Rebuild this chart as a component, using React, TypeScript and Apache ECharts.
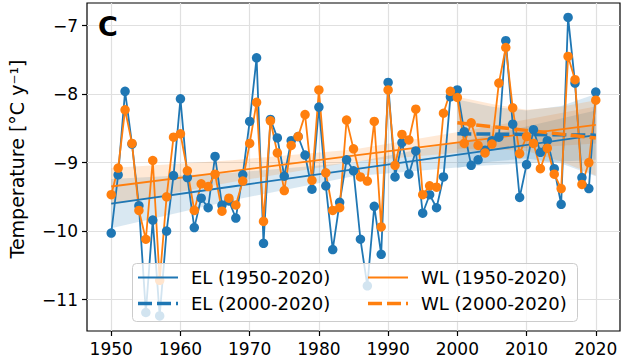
import React, { useEffect, useRef } from 'react';
import * as echarts from 'echarts';

const YEARS = Array.from({ length: 71 }, (_, i) => 1950 + i);

const EL_VALUES = [
  -10.03, -9.18, -7.96, -8.73, -9.63, -11.19, -9.84, -11.24, -10.0, -9.19,
  -8.07, -9.22, -9.95, -9.52, -9.66, -8.91, -9.62, -9.56, -9.81, -9.18,
  -8.4, -7.47, -10.18, -8.37, -8.64, -9.2, -8.68, -8.62, -8.89, -9.39,
  -8.19, -9.34, -10.27, -9.58, -8.96, -9.12, -10.12, -10.8, -9.64, -10.34,
  -7.83, -9.21, -8.71, -9.17, -8.83, -9.74, -9.47, -9.66, -9.21, -8.04,
  -7.94, -8.55, -9.04, -8.96, -8.82, -8.68, -8.63, -7.22, -8.44, -9.51,
  -9.03, -8.52, -8.85, -8.68, -9.09, -9.61, -6.88, -7.84, -9.22, -9.38,
  -7.97,
];

const WL_VALUES = [
  -9.47, -9.08, -8.23, -8.72, -9.7, -10.12, -8.97, -10.72, -9.5, -8.63,
  -8.58, -9.12, -9.7, -9.31, -9.35, -9.17, -9.71, -9.52, -9.62, -9.27,
  -8.72, -8.12, -9.86, -8.39, -8.86, -9.41, -8.75, -8.62, -8.3, -9.26,
  -7.94, -9.15, -9.7, -9.66, -8.38, -8.8, -9.21, -9.27, -8.4, -9.94,
  -7.94, -9.04, -8.59, -8.67, -8.22, -9.47, -9.34, -9.36, -8.28, -7.96,
  -8.05, -8.72, -8.42, -8.75, -8.86, -8.73, -7.84, -7.32, -8.2, -8.87,
  -8.62, -8.72, -9.09, -8.79, -9.17, -9.38, -7.45, -7.79, -9.32, -9.0,
  -8.09,
];

// Trend 1950-2020 with confidence band
const FULL_YEARS = [1950, 1967.5, 1985, 2002.5, 2020];
const EL_FULL_TREND = [-9.6, -9.35, -9.1, -8.85, -8.6];
const EL_FULL_LOW = [-9.96, -9.55, -9.2, -9.05, -8.96];
const EL_FULL_HIGH = [-9.24, -9.15, -9.0, -8.65, -8.24];
const WL_FULL_TREND = [-9.35, -9.125, -8.9, -8.675, -8.45];
const WL_FULL_LOW = [-9.62, -9.285, -8.99, -8.835, -8.72];
const WL_FULL_HIGH = [-9.08, -8.965, -8.81, -8.515, -8.18];

// Trend 2000-2020 with confidence band
const RECENT_YEARS = [2000, 2005, 2010, 2015, 2020];
const EL_RECENT_TREND = [-8.58, -8.585, -8.59, -8.595, -8.6];
const EL_RECENT_LOW = [-9.08, -8.985, -8.94, -9.015, -9.2];
const EL_RECENT_HIGH = [-8.08, -8.185, -8.24, -8.175, -8.0];
const WL_RECENT_TREND = [-8.42, -8.475, -8.53, -8.585, -8.64];
const WL_RECENT_LOW = [-8.8, -8.805, -8.83, -8.985, -9.19];
const WL_RECENT_HIGH = [-8.04, -8.145, -8.23, -8.185, -8.09];

const X_TICKS = [1950, 1960, 1970, 1980, 1990, 2000, 2010, 2020];
const Y_TICKS = [-11, -10, -9, -8, -7];
const LEGEND_LABELS = ['EL (1950-2020)', 'EL (2000-2020)', 'WL (1950-2020)', 'WL (2000-2020)'];

const BLUE = '#1f77b4';
const ORANGE = '#ff7f0e';
const FONT = 'DejaVu Sans';

function pairs(xs: number[], ys: number[]) {
  return xs.map((x, i) => [x, ys[i]]);
}

function band(id: string, xs: number[], low: number[], high: number[], color: string) {
  return {
    type: 'custom',
    name: id,
    silent: true,
    data: xs.map((x, i) => [x, low[i], high[i]]),
    encode: { x: 0, y: [1, 2] },
    renderItem: (params: any, api: any) => {
      if (params.dataIndex !== 0) return null;
      const top = xs.map((x, i) => api.coord([x, high[i]]));
      const bottom = xs.map((x, i) => api.coord([x, low[i]])).reverse();
      return {
        type: 'polygon',
        shape: { points: top.concat(bottom) },
        style: { fill: color, opacity: 0.17 },
      };
    },
  };
}

export default function App() {
  const ref = useRef<HTMLDivElement>(null);
  useEffect(() => {
    document.body.style.margin = '0';
    const chart = echarts.init(ref.current!, null, { renderer: 'svg' });
    const tickFont = { fontSize: 17, fontFamily: FONT, color: '#000' };
    const legendText = (x: number, y: number, text: string) => ({
      type: 'text',
      z: 101,
      x,
      y,
      style: { text, fontSize: 18, fontFamily: FONT, fill: '#000', verticalAlign: 'middle' },
    });
    chart.setOption({
      animation: false,
      title: {
        text: 'C',
        left: 98,
        top: 13,
        padding: 0,
        textStyle: { fontSize: 27, fontWeight: 'bold', fontFamily: FONT, color: '#000' },
      },
      grid: {
        left: 87,
        top: 3,
        right: 4,
        bottom: 32,
        show: true,
        borderColor: '#000',
        borderWidth: 1.2,
        backgroundColor: 'transparent',
        containLabel: false,
        outerBoundsMode: 'none',
      },
      xAxis: {
        type: 'value',
        min: 1946.5,
        max: 2023.5,
        axisLine: { show: false },
        axisTick: { show: true, length: 5, lineStyle: { color: '#000', width: 1.2 }, customValues: X_TICKS },
        axisLabel: { ...tickFont, margin: 9, customValues: X_TICKS, formatter: (v: number) => String(v) },
        splitLine: { show: true, lineStyle: { color: '#e0e0e0', width: 1.2 } },
      },
      yAxis: {
        type: 'value',
        min: -11.46,
        max: -6.67,
        name: 'Temperature [°C y⁻¹]',
        nameLocation: 'middle',
        nameRotate: 90,
        nameGap: 61,
        nameTextStyle: { fontSize: 19, fontFamily: FONT, color: '#000', padding: [0, 0, 0, 16] },
        axisLine: { show: false },
        axisTick: { show: true, length: 5, lineStyle: { color: '#000', width: 1.2 }, customValues: Y_TICKS },
        axisLabel: {
          ...tickFont,
          margin: 9,
          customValues: Y_TICKS,
          formatter: (v: number) => String(v).replace('-', '−'),
        },
        splitLine: { show: true, lineStyle: { color: '#e0e0e0', width: 1.2 } },
      },
      series: [
        band('elFull', FULL_YEARS, EL_FULL_LOW, EL_FULL_HIGH, BLUE),
        band('wlFull', FULL_YEARS, WL_FULL_LOW, WL_FULL_HIGH, ORANGE),
        band('elRecent', RECENT_YEARS, EL_RECENT_LOW, EL_RECENT_HIGH, BLUE),
        band('wlRecent', RECENT_YEARS, WL_RECENT_LOW, WL_RECENT_HIGH, ORANGE),
        {
          type: 'line',
          name: 'EL',
          data: pairs(YEARS, EL_VALUES),
          symbol: 'circle',
          symbolSize: 9.5,
          showAllSymbol: true,
          itemStyle: { color: BLUE, borderWidth: 0 },
          lineStyle: { color: BLUE, width: 1.8 },
        },
        {
          type: 'line',
          name: 'WL',
          data: pairs(YEARS, WL_VALUES),
          symbol: 'circle',
          symbolSize: 9.5,
          showAllSymbol: true,
          itemStyle: { color: ORANGE, borderWidth: 0 },
          lineStyle: { color: ORANGE, width: 1.8 },
        },
        {
          type: 'line',
          name: LEGEND_LABELS[0],
          data: pairs(FULL_YEARS, EL_FULL_TREND),
          symbol: 'none',
          lineStyle: { color: BLUE, width: 1.8 },
        },
        {
          type: 'line',
          name: LEGEND_LABELS[2],
          data: pairs(FULL_YEARS, WL_FULL_TREND),
          symbol: 'none',
          lineStyle: { color: ORANGE, width: 1.8 },
        },
        {
          type: 'line',
          name: LEGEND_LABELS[1],
          data: pairs(RECENT_YEARS, EL_RECENT_TREND),
          symbol: 'none',
          lineStyle: { color: BLUE, width: 3.5, type: [14, 5] },
        },
        {
          type: 'line',
          name: LEGEND_LABELS[3],
          data: pairs(RECENT_YEARS, WL_RECENT_TREND),
          symbol: 'none',
          lineStyle: { color: ORANGE, width: 3.5, type: [14, 5] },
        },
      ],
      graphic: [
        {
          type: 'rect',
          z: 100,
          shape: { x: 132.5, y: 263.5, width: 445, height: 58, r: 4 },
          style: { fill: 'rgba(255,255,255,0.8)', stroke: '#cccccc', lineWidth: 1 },
        },
        { type: 'line', z: 101, shape: { x1: 138, y1: 277.5, x2: 178, y2: 277.5 }, style: { stroke: BLUE, lineWidth: 1.8 } },
        { type: 'line', z: 101, shape: { x1: 138, y1: 303.5, x2: 178, y2: 303.5 }, style: { stroke: BLUE, lineWidth: 3.5, lineDash: [14, 5] } },
        { type: 'line', z: 101, shape: { x1: 368, y1: 277.5, x2: 408, y2: 277.5 }, style: { stroke: ORANGE, lineWidth: 1.8 } },
        { type: 'line', z: 101, shape: { x1: 368, y1: 303.5, x2: 408, y2: 303.5 }, style: { stroke: ORANGE, lineWidth: 3.5, lineDash: [14, 5] } },
        legendText(191, 277.5, LEGEND_LABELS[0]),
        legendText(191, 303.5, LEGEND_LABELS[1]),
        legendText(421, 277.5, LEGEND_LABELS[2]),
        legendText(421, 303.5, LEGEND_LABELS[3]),
      ],
    });
    return () => chart.dispose();
  }, []);
  return <div ref={ref} style={{ width: 624, height: 363 }} />;
}
